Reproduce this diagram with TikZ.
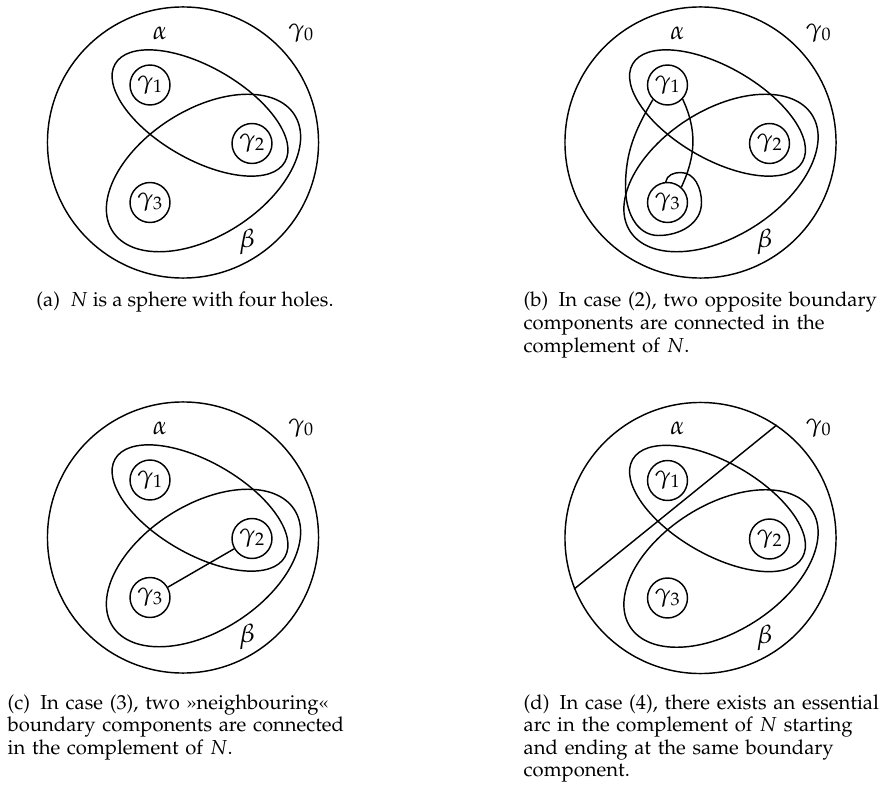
\documentclass[tikz,border=0pt]{standalone}
\usepackage[T1]{fontenc}
\usepackage{mathpazo}
\newcommand\surface[1]{%
  \node[outer] (out#1) at (0,0) {};
  \node[hole] (g1#1) at (-33,57.5) {$\gamma_1$};
  \node[hole] (g2#1) at (69,-1) {$\gamma_2$};
  \node[hole] (g3#1) at (-33,-60) {$\gamma_3$};
  \draw[rotate around={-30:(17,29.5)}] (17,29.5) ellipse[x radius=98,y radius=46];
  \draw[rotate around={32.6:(20.5,-30.5)}] (20.5,-30.5) ellipse[x radius=108,y radius=63];
  \node[lbl] (al#1) at (-23,109.5) {$\alpha$};
  \node[lbl] (gz#1) at (118,109.5) {$\gamma_0$};
  \node[lbl] (be#1) at (64,-99.5) {$\beta$};
}
\begin{document}
\begin{tikzpicture}[x=0.553pt,y=0.553pt,line width=0.8pt,
  outer/.style={circle,draw,minimum size=149.9pt,inner sep=0pt},
  hole/.style={circle,draw,minimum size=22.1pt,inner sep=0pt,font=\Large},
  lbl/.style={inner sep=0pt,font=\Large},
  capfont/.style={font=\fontsize{11.2}{12.5}\selectfont},
  capbox/.style={capfont,text width=215pt,align=left,anchor=base west,inner sep=0pt}]
\useasboundingbox (0,0) rectangle (884,-790);
% (a)
\begin{scope}[shift={(183,-142.5)}]
  \surface{a}
\end{scope}
% (b)
\begin{scope}[shift={(700.5,-142.5)}]
  \surface{b}
  \draw (g1b.-43) to[out=-65,in=65] (g3b.48);
  \draw (g1b.225) to[out=240,in=90] (-75,-45) to[out=270,in=180] (-42,-93)
        to[out=0,in=270] (1,-60) to[out=90,in=0] (-20,-30) to[out=180,in=80] (g3b.95);
\end{scope}
% (c)
\begin{scope}[shift={(183,-537.5)}]
  \surface{c}
  \draw (g3c) -- (g2c);
\end{scope}
% (d)
\begin{scope}[shift={(700.5,-538)}]
  \surface{d}
  \draw (outd.202.4) -- (outd.56);
\end{scope}
% captions
\node[capfont,anchor=base,inner sep=0pt] (capa) at (185,-307) {(a)\enspace $N$ is a sphere with four holes.};
\node[capbox] (capb) at (523,-307) {(b)\enspace In case (2), two opposite boundary\\ components are connected in the\\ complement of $N$.};
\node[capbox] (capc) at (7,-709) {(c)\enspace In case (3), two \guillemotright{}neighbouring\guillemotleft\\ boundary components are connected\\ in the complement of $N$.};
\node[capbox] (capd) at (523,-709) {(d)\enspace In case (4), there exists an essential\\ arc in the complement of $N$ starting\\ and ending at the same boundary\\ component.};
\end{tikzpicture}
\end{document}
